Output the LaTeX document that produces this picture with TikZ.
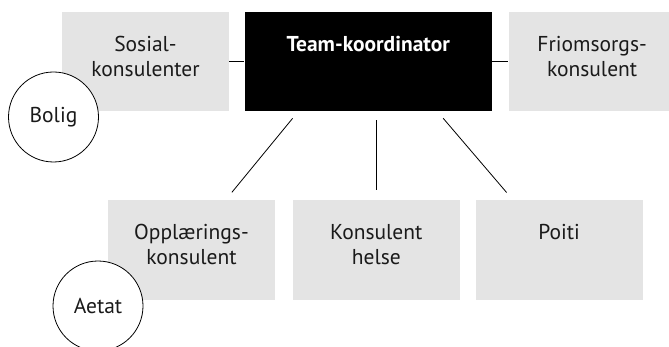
\documentclass[tikz,border=0pt]{standalone}
\usepackage{fontspec}
\setmainfont{PT Sans}
\setsansfont{PT Sans}
\usepackage{xcolor}
\usepackage{tikz}
\usetikzlibrary{positioning}

\definecolor{boksgraa}{RGB}{228,228,228}
\definecolor{tekstsvart}{RGB}{26,26,26}

\begin{document}
\begin{tikzpicture}[x=1pt,y=-1pt,line width=0.8pt,node distance=15pt,
    font=\fontsize{21.5}{25}\selectfont,
    boks/.style={fill=boksgraa,minimum width=167pt,minimum height=99pt,inner sep=0pt},
    sjef/.style={fill=black,minimum width=247pt,minimum height=99pt,inner sep=0pt},
    tekst/.style={anchor=north,yshift=-24pt,align=center,inner sep=0pt,text=tekstsvart},
    etat/.style={circle,draw,fill=white,minimum size=90pt,inner sep=0pt,text=tekstsvart}]

\useasboundingbox (0,0) rectangle (669,347);

\node[boks,label={[tekst]north:Sosial-\\konsulenter}] (Sosial) at (145.5,61.5) {};
\node[sjef,label={[tekst,text=white,font=\fontsize{21.5}{25}\selectfont\bfseries]north:Team-koordinator}] (Team) [right=15pt of Sosial] {};
\node[boks,label={[tekst]north:Friomsorgs-\\konsulent}] (Friomsorg) [right=16pt of Team] {};

\node[boks,label={[tekst]north:Opplærings-\\konsulent}] (Opplaering) at (191.5,250) {};
\node[boks,label={[tekst]north:Konsulent\\helse}] (Helse) [right=17pt of Opplaering] {};
\node[boks,label={[tekst]north:Poiti}] (Poiti) [right=15pt of Helse] {};

\draw (Sosial) -- (Team);
\draw (Team) -- (Friomsorg);
\draw[shorten <=9pt,shorten >=10pt] ([xshift=-70pt]Team.south) -- ([xshift=34pt]Opplaering.north);
\draw[shorten <=9pt,shorten >=10pt] (Helse.north |- Team.south) -- (Helse.north);
\draw[shorten <=9pt,shorten >=10pt] ([xshift=69pt]Team.south) -- ([xshift=-46pt]Poiti.north);

\node[etat] (Bolig) at (53.5,117) {Bolig};
\node[etat] (Aetat) at (98,306) {Aetat};

\end{tikzpicture}
\end{document}
